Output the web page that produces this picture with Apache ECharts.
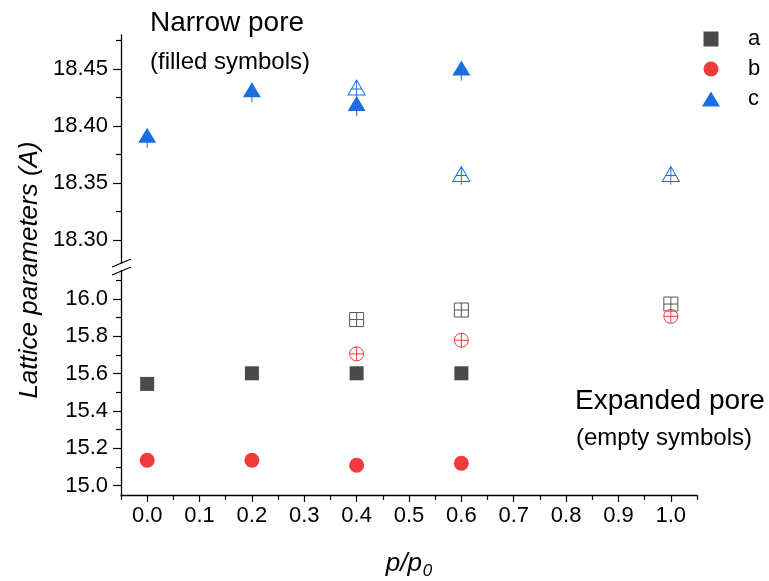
<!DOCTYPE html>
<html>
<head>
<meta charset="utf-8">
<script src="https://cdn.jsdelivr.net/npm/echarts@6/dist/echarts.min.js"></script>
<style>html,body{margin:0;padding:0;background:#fff}#c{width:769px;height:581px}</style>
</head>
<body>
<div id="c"></div>
<script>
// ---- data ----
const xFilled = [0.0, 0.2, 0.4, 0.6];
const aFilled = [15.545, 15.602, 15.602, 15.602];
const bFilled = [15.136, 15.136, 15.109, 15.12];
const cFilled = [18.392, 18.432, 18.42, 18.451];
const xOpen = [0.4, 0.6, 1.0];
const aOpen = [15.89, 15.941, 15.973];
const bOpen = [15.706, 15.779, 15.907];
const cOpen = [18.434, 18.358, 18.358];
const xTickLabels = [0.0, 0.1, 0.2, 0.3, 0.4, 0.5, 0.6, 0.7, 0.8, 0.9, 1.0];
const xMinorTicks = [-0.05, 0.05, 0.15, 0.25, 0.35, 0.45, 0.55, 0.65, 0.75, 0.85, 0.95, 1.05];
const yUpperLabels = [18.30, 18.35, 18.40, 18.45];
const yUpperMinor = [18.325, 18.375, 18.425, 18.475];
const yLowerLabels = [15.0, 15.2, 15.4, 15.6, 15.8, 16.0];
const yLowerMinor = [15.1, 15.3, 15.5, 15.7, 15.9, 16.1];
const legendNames = ['a', 'b', 'c'];

const FONT = '"Liberation Sans", Arial, Helvetica, sans-serif';
const GREY = '#4a4a4a', RED = '#ef3b3b', BLUE = '#1a6fe0';
const zip = (xs, ys) => xs.map((x, i) => [x, ys[i]]);

const TRI_FILLED = 'path://M9,0L18,15L0,15Z M8.5,15L9.5,15L9.5,20L8.5,20Z';
const TRI_OPEN = 'path://M8.5,0L17,15L0,15Z M8.5,0L8.5,18 M3.4,9L13.6,9';
const SQ_OPEN = 'path://M0,0L14,0L14,14L0,14Z M7,0L7,14 M0,7L14,7';
const CI_OPEN = 'path://M0,7A7,7 0 1,0 14,7A7,7 0 1,0 0,7Z M7,0L7,14 M0,7L14,7';

const axisLineStyle = {color: '#000', width: 1.3};
function yMain(grid, min, max, labels, fmtDigits) {
  return {
    type: 'value', gridIndex: grid, min: min, max: max, position: 'left',
    axisLine: {show: true, onZero: false, lineStyle: axisLineStyle},
    axisTick: {show: true, length: 8, customValues: labels, lineStyle: {color: '#000', width: 1.2}},
    axisLabel: {customValues: labels, formatter: v => v.toFixed(fmtDigits), color: '#000',
                fontSize: 22, fontFamily: FONT, margin: 13},
    splitLine: {show: false}
  };
}
function yMinor(grid, min, max, ticks) {
  return {
    type: 'value', gridIndex: grid, min: min, max: max, position: 'left',
    axisLine: {show: false, onZero: false},
    axisTick: {show: true, length: 5, customValues: ticks, lineStyle: {color: '#000', width: 1.2}},
    axisLabel: {show: false}, splitLine: {show: false}
  };
}

const option = {
  animation: false,
  backgroundColor: '#fff',
  grid: [
    {left: 121, right: 72, top: 35, height: 228},
    {left: 121, right: 72, top: 271, height: 226}
  ],
  xAxis: [
    {type: 'value', gridIndex: 0, min: -0.05, max: 1.05, show: false},
    {type: 'value', gridIndex: 1, min: -0.05, max: 1.05, position: 'bottom',
     axisLine: {show: true, onZero: false, lineStyle: axisLineStyle},
     axisTick: {show: true, length: 7, customValues: xTickLabels, lineStyle: {color: '#000', width: 1.2}},
     axisLabel: {customValues: xTickLabels, formatter: v => v.toFixed(1), color: '#000',
                 fontSize: 22, fontFamily: FONT, margin: 10},
     splitLine: {show: false},
     name: '{i|p/p}{s|0}', nameLocation: 'middle', nameGap: 52,
     nameTextStyle: {color: '#000', rich: {
       i: {fontStyle: 'italic', fontSize: 26, fontFamily: FONT, color: '#000'},
       s: {fontStyle: 'italic', fontSize: 17, fontFamily: FONT, color: '#000', padding: [16, 0, 0, 1]}
     }}
    },
    {type: 'value', gridIndex: 1, min: -0.05, max: 1.05, position: 'bottom',
     axisLine: {show: false, onZero: false},
     axisTick: {show: true, length: 5, customValues: xMinorTicks, lineStyle: {color: '#000', width: 1.2}},
     axisLabel: {show: false}, splitLine: {show: false}}
  ],
  yAxis: [
    yMain(0, 18.28, 18.48, yUpperLabels, 2),
    yMain(1, 14.95, 16.15, yLowerLabels, 1),
    yMinor(0, 18.28, 18.48, yUpperMinor),
    yMinor(1, 14.95, 16.15, yLowerMinor)
  ],
  legend: {
    orient: 'vertical', left: 697, top: 22, itemGap: 6,
    itemWidth: 18, itemHeight: 15, symbolKeepAspect: true,
    textStyle: {fontSize: 22, fontFamily: FONT, color: '#000', lineHeight: 24, padding: [0, 0, 0, 23]},
    data: [
      {name: legendNames[0], icon: 'path://M0,0L13,0L13,13L0,13Z'},
      {name: legendNames[1], icon: 'circle'},
      {name: legendNames[2], icon: 'path://M9,0L18,15L0,15Z'}
    ]
  },
  graphic: [
    {type: 'text', x: 150, y: 23, style: {text: 'Narrow pore', font: '28px ' + FONT, fill: '#000', align: 'left', verticalAlign: 'middle'}},
    {type: 'text', x: 150, y: 62, style: {text: '(filled symbols)', font: '24px ' + FONT, fill: '#000', align: 'left', verticalAlign: 'middle'}},
    {type: 'text', x: 575, y: 401, style: {text: 'Expanded pore', font: '28px ' + FONT, fill: '#000', align: 'left', verticalAlign: 'middle'}},
    {type: 'text', x: 576, y: 438, style: {text: '(empty symbols)', font: '24px ' + FONT, fill: '#000', align: 'left', verticalAlign: 'middle'}},
    {type: 'text', x: 30, y: 270, rotation: Math.PI / 2,
     style: {text: 'Lattice parameters (A)', font: 'italic 26px ' + FONT, fill: '#000', align: 'center', verticalAlign: 'middle'}},
    {type: 'line', shape: {x1: 112, y1: 267, x2: 131, y2: 259}, style: {stroke: '#000', lineWidth: 1.3}},
    {type: 'line', shape: {x1: 112, y1: 275, x2: 131, y2: 267}, style: {stroke: '#000', lineWidth: 1.3}}
  ],
  series: [
    {name: 'a', type: 'scatter', xAxisIndex: 1, yAxisIndex: 1, symbol: 'rect', symbolSize: 14,
     itemStyle: {color: GREY, opacity: 1}, data: zip(xFilled, aFilled), z: 3},
    {name: 'b', type: 'scatter', xAxisIndex: 1, yAxisIndex: 1, symbol: 'circle', symbolSize: 15,
     itemStyle: {color: RED, opacity: 1}, data: zip(xFilled, bFilled), z: 3},
    {name: 'c', type: 'scatter', xAxisIndex: 0, yAxisIndex: 0, symbol: TRI_FILLED, symbolSize: [18, 20],
     symbolOffset: [0, 2.5], itemStyle: {color: BLUE, opacity: 1}, data: zip(xFilled, cFilled), z: 3},
    {name: 'a (expanded)', type: 'scatter', xAxisIndex: 1, yAxisIndex: 1, symbol: SQ_OPEN, symbolSize: 14,
     itemStyle: {color: 'none', borderColor: '#555', borderWidth: 1, opacity: 1}, data: zip(xOpen, aOpen), z: 3},
    {name: 'b (expanded)', type: 'scatter', xAxisIndex: 1, yAxisIndex: 1, symbol: CI_OPEN, symbolSize: 14,
     itemStyle: {color: 'none', borderColor: RED, borderWidth: 1, opacity: 1}, data: zip(xOpen, bOpen), z: 3},
    {name: 'c (expanded)', type: 'scatter', xAxisIndex: 0, yAxisIndex: 0, symbol: TRI_OPEN, symbolSize: [17, 18],
     symbolOffset: [0, 1.5], itemStyle: {color: 'none', borderColor: BLUE, borderWidth: 1, opacity: 1}, data: zip(xOpen, cOpen), z: 3}
  ]
};
const chart = echarts.init(document.getElementById('c'), null, {renderer: 'canvas'});
chart.setOption(option);
</script>
</body>
</html>
